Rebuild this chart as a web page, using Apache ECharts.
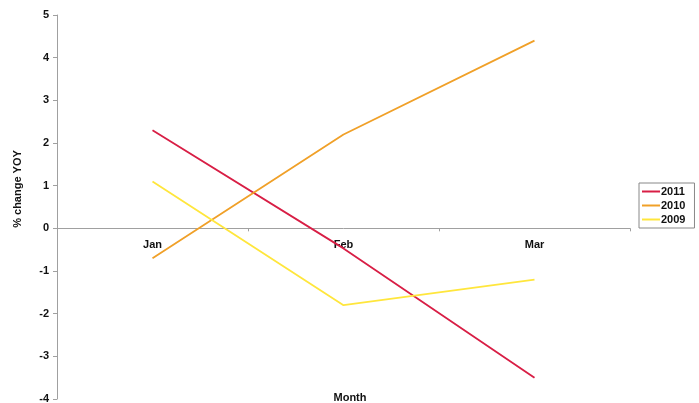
<!DOCTYPE html>
<html>
<head>
<meta charset="utf-8">
<script src="https://cdn.jsdelivr.net/npm/echarts@6/dist/echarts.min.js"></script>
<style>
  html, body { margin: 0; padding: 0; background: #fff; }
  #chart { width: 699px; height: 403px; }
</style>
</head>
<body>
<div id="chart"></div>
<script>
// data
let months = ['Jan', 'Feb', 'Mar'];
let yoy2011 = [2.3, -0.47, -3.5];
let yoy2010 = [-0.7, 2.2, 4.4];
let yoy2009 = [1.1, -1.8, -1.2];
let yMin = -4;
let yMax = 5;

let color_red = '#d81e45';
let color_orange = '#f0a028';
let color_yellow = '#ffe63c';
let axisGray = '#a0a0a0';
let fontFam = '"Liberation Sans", Arial, sans-serif';

let grid = { left: 57, right: 69, top: 15, bottom: 4, containLabel: false, outerBoundsMode: 'none' };
// the category axis sits on the zero line, labels just under it
let plotH = 403 - grid.top - grid.bottom;
let zeroOffset = -plotH * (0 - yMin) / (yMax - yMin);

const chartDom = document.getElementById('chart');
const chart = echarts.init(chartDom);

function lineSerie(name, data, color) {
  return {
    name: name,
    type: 'line',
    data: data,
    symbol: 'none',
    smooth: false,
    lineStyle: { color: color, width: 1.8 },
    itemStyle: { color: color }
  };
}

let option = {
  animation: false,
  grid: grid,
  legend: {
    orient: 'vertical',
    left: 639,
    top: 183,
    padding: [3, 9, 3, 3],
    itemGap: 3,
    itemWidth: 18,
    itemHeight: 2,
    icon: 'rect',
    borderColor: '#888',
    borderWidth: 1,
    textStyle: { fontFamily: fontFam, fontWeight: 'bold', fontSize: 11, color: '#111', padding: [0, 0, 0, -4] },
    data: ['2011', '2010', '2009']
  },
  xAxis: {
    type: 'category',
    data: months,
    boundaryGap: true,
    position: 'bottom',
    offset: zeroOffset,
    axisLine: { onZero: false, lineStyle: { color: axisGray } },
    axisTick: { show: true, length: 3, lineStyle: { color: axisGray } },
    axisLabel: { fontFamily: fontFam, fontWeight: 'bold', fontSize: 11, color: '#111', margin: 11 },
    splitLine: { show: false }
  },
  yAxis: {
    type: 'value',
    min: yMin,
    max: yMax,
    interval: 1,
    axisLine: { show: true, lineStyle: { color: axisGray } },
    axisTick: { show: true, length: 4, lineStyle: { color: axisGray } },
    axisLabel: { fontFamily: fontFam, fontWeight: 'bold', fontSize: 11, color: '#111', margin: 8 },
    splitLine: { show: false }
  },
  graphic: [
    {
      type: 'text',
      x: 18,
      y: 189,
      rotation: Math.PI / 2,
      style: {
        text: '% change YOY',
        font: 'bold 11px ' + fontFam,
        fill: '#111',
        align: 'center',
        verticalAlign: 'middle'
      }
    },
    {
      type: 'text',
      x: 350,
      y: 398,
      style: {
        text: 'Month',
        font: 'bold 11px ' + fontFam,
        fill: '#111',
        align: 'center',
        verticalAlign: 'middle'
      }
    }
  ],
  series: [
    lineSerie('2011', yoy2011, color_red),
    lineSerie('2010', yoy2010, color_orange),
    lineSerie('2009', yoy2009, color_yellow)
  ]
};

option && chart.setOption(option);
</script>
</body>
</html>
